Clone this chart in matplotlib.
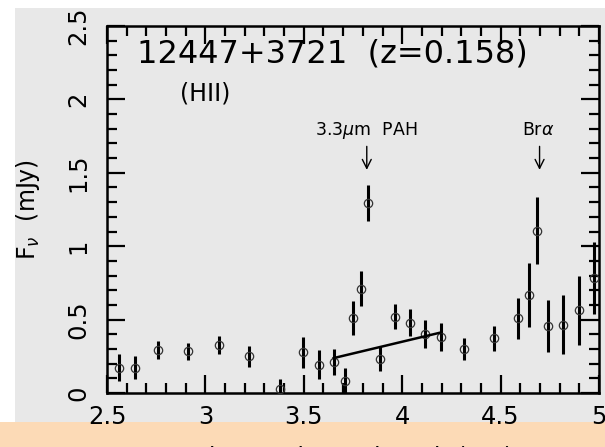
import matplotlib
matplotlib.use("Agg")
import matplotlib.pyplot as plt
from matplotlib.patches import Rectangle
from matplotlib.ticker import MultipleLocator

plt.rcParams['font.family'] = ['DejaVu Sans']
plt.rcParams['mathtext.fontset'] = 'dejavusans'

# observed wavelength (um), flux (mJy) and 1-sigma errors
wave = [2.562, 2.642, 2.757, 2.913, 3.067, 3.224, 3.380, 3.495, 3.575, 3.652,
        3.708, 3.750, 3.789, 3.828, 3.886, 3.963, 4.040, 4.118, 4.199, 4.312,
        4.468, 4.586, 4.644, 4.683, 4.742, 4.818, 4.896, 4.974]
flux = [0.173, 0.173, 0.294, 0.283, 0.329, 0.249, 0.025, 0.276, 0.192, 0.214,
        0.082, 0.509, 0.710, 1.295, 0.235, 0.518, 0.479, 0.402, 0.384, 0.301,
        0.374, 0.509, 0.669, 1.105, 0.459, 0.466, 0.564, 0.786]
ferr = [0.09, 0.08, 0.06, 0.06, 0.06, 0.074, 0.07, 0.105, 0.10, 0.088,
        0.09, 0.116, 0.12, 0.12, 0.085, 0.085, 0.093, 0.097, 0.095, 0.076,
        0.085, 0.14, 0.217, 0.228, 0.177, 0.20, 0.236, 0.245]

# continuum fit under the PAH feature
cont_x = [3.652, 4.199]
cont_y = [0.238, 0.413]

# line markers: (label, wavelength, arrow top, arrow tip)
features = [("3.3$\\mu$m  PAH", 3.82, 1.68, 1.52),
            ("Br$\\alpha$", 4.698, 1.68, 1.52)]

W, H = 605, 447
fig = plt.figure(figsize=(W / 100, H / 100), dpi=100, facecolor='white')
bg = '#e8e8e8'
fig.add_artist(Rectangle((15 / W, 0), 1, (H - 8) / H, transform=fig.transFigure,
                         facecolor=bg, edgecolor='none', zorder=-10))
# peach banner along the bottom edge
fig.add_artist(Rectangle((0, 0), 1, 25 / H, transform=fig.transFigure,
                         facecolor='#fcdab6', edgecolor='none', zorder=-9))

ax = fig.add_axes([107 / W, (H - 393) / H, 492 / W, 367 / H])
ax.set_facecolor(bg)

ax.errorbar(wave, flux, yerr=ferr, fmt='o', mfc='none', mec='#333333', mew=0.9,
            ms=6, ecolor='black', elinewidth=2.2, capsize=0, zorder=3)
ax.plot(cont_x, cont_y, color='black', lw=1.8, zorder=4)

for label, x, ytop, ytip in features:
    ax.annotate('', xy=(x, ytip), xytext=(x, ytop),
                arrowprops=dict(arrowstyle='->', lw=1.0, color='black',
                                mutation_scale=16, shrinkA=0, shrinkB=0))
    ax.text(x - 0.005, 1.79, label, ha='center', va='center', fontsize=12.5)

ax.text(0.06, 0.923, '12447+3721  (z=0.158)', transform=ax.transAxes,
        fontsize=23, ha='left', va='center')
ax.text(0.148, 0.815, '(HII)', transform=ax.transAxes,
        fontsize=17, ha='left', va='center')

ax.set_xlim(2.5, 5.0)
ax.set_ylim(0, 2.5)
ax.xaxis.set_major_locator(MultipleLocator(0.5))
ax.xaxis.set_minor_locator(MultipleLocator(0.1))
ax.yaxis.set_major_locator(MultipleLocator(0.5))
ax.yaxis.set_minor_locator(MultipleLocator(0.1))
ax.xaxis.set_major_formatter(plt.FuncFormatter(lambda v, p: f'{v:g}'))
ax.yaxis.set_major_formatter(plt.FuncFormatter(lambda v, p: f'{v:g}'))

ax.tick_params(which='both', direction='in', top=True, right=True,
               width=1.6, labelsize=17.5, color='black')
ax.tick_params(which='major', length=13)
ax.tick_params(which='minor', length=7)
ax.tick_params(axis='x', pad=9)
ax.tick_params(axis='y', pad=12, labelrotation=90)
for lab in ax.get_yticklabels():
    lab.set_va('center')
for s in ax.spines.values():
    s.set_linewidth(1.8)

ax.set_ylabel('F$_\\nu$  (mJy)', fontsize=17)
ax.yaxis.set_label_coords(-0.132, 0.5)
# the x label sits mostly below the bottom edge, only its top shows
ax.set_xlabel('observed wavelength ($\\mu$m)', fontsize=17, va='top')
ax.xaxis.set_label_coords(0.5, -0.138)

fig.savefig('out.png', dpi=100, facecolor='white')
